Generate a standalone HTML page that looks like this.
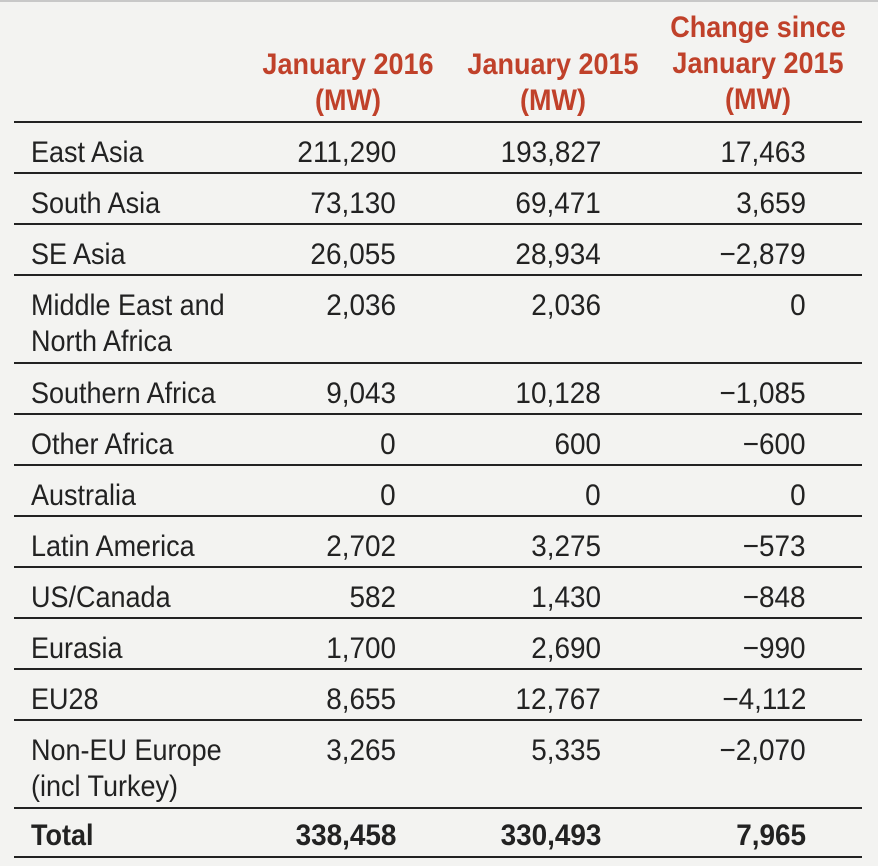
<!DOCTYPE html>
<html><head><style>
body{margin:0;width:878px;height:866px;background:#f3f3f1;position:relative;overflow:hidden;font-family:"Liberation Sans",sans-serif;color:#222}
.top{position:absolute;left:0;top:0;width:878px;height:2px;background:#c8c8c8}
.ln{position:absolute;left:14px;width:848px;height:2px;background:#222}
.t{position:absolute;font-size:30px;line-height:36px;white-space:nowrap}
.l{transform:scaleX(0.9);transform-origin:left}
.r{transform:scaleX(0.93);transform-origin:right;text-align:right}
.h{position:absolute;font-size:30px;font-weight:bold;color:#c0412a;line-height:36px;text-align:center;white-space:nowrap;transform:scaleX(0.9);width:260px}
b{font-weight:bold}
</style></head><body>
<div class="top"></div>
<div class="h" style="left:218px;top:47px">January 2016<br>(MW)</div>
<div class="h" style="left:423px;top:47px">January 2015<br>(MW)</div>
<div class="h" style="left:628px;top:10px">Change since<br>January 2015<br>(MW)</div>
<div class="ln" style="top:121px"></div>
<div id="rows"></div>
<script>
var rows=[["East Asia","211,290","193,827","17,463",122,1],["South Asia","73,130","69,471","3,659",173,1],["SE Asia","26,055","28,934","−2,879",224,1],["Middle East and<br>North Africa","2,036","2,036","0",275,2],["Southern Africa","9,043","10,128","−1,085",363,1],["Other Africa","0","600","−600",414,1],["Australia","0","0","0",465,1],["Latin America","2,702","3,275","−573",516,1],["US/Canada","582","1,430","−848",567,1],["Eurasia","1,700","2,690","−990",618,1],["EU28","8,655","12,767","−4,112",669,1],["Non-EU Europe<br>(incl Turkey)","3,265","5,335","−2,070",720,2]];
var h="";
rows.forEach(function(r){var y=r[4]+13;var e=r[4]+(r[5]==1?51:88);
h+='<div class="t l" style="left:31px;top:'+y+'px">'+r[0]+'</div>';
h+='<div class="t r" style="right:482px;top:'+y+'px">'+r[1]+'</div>';
h+='<div class="t r" style="right:277px;top:'+y+'px">'+r[2]+'</div>';
h+='<div class="t r" style="right:72px;top:'+y+'px">'+r[3]+'</div>';
h+='<div class="ln" style="top:'+(e-1)+'px"></div>';});
var y=818;
h+='<div class="t l" style="left:31px;top:'+y+'px"><b>Total</b></div>';
h+='<div class="t r" style="right:482px;top:'+y+'px"><b>338,458</b></div>';
h+='<div class="t r" style="right:277px;top:'+y+'px"><b>330,493</b></div>';
h+='<div class="t r" style="right:72px;top:'+y+'px"><b>7,965</b></div>';
h+='<div class="ln" style="top:856px"></div>';
document.getElementById("rows").innerHTML=h;
</script>
</body></html>
